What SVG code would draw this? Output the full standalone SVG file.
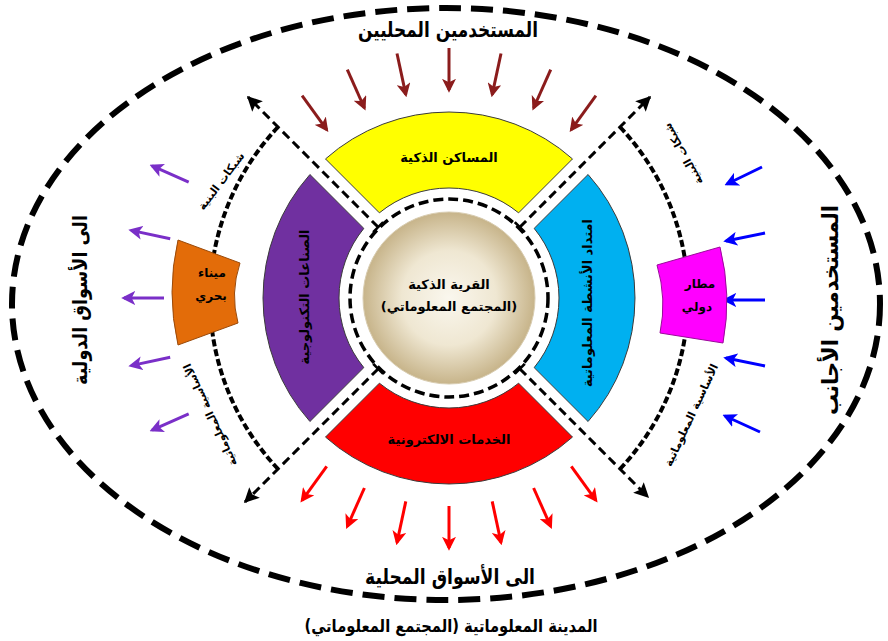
<svg xmlns="http://www.w3.org/2000/svg" width="888" height="641" viewBox="0 0 888 641">
  <style>
    .ar { font-family: "DejaVu Sans", "Noto Sans", sans-serif; font-weight: bold; fill: #000; direction: rtl; text-anchor: middle; }
    .dash-x { fill: none; stroke: #000; stroke-width: 3; stroke-dasharray: 9 5; }
    .dash-arc { fill: none; stroke: #000; stroke-width: 4; stroke-dasharray: 7 3; }
    .tick { stroke: #000; stroke-width: 3; }
    .sector { stroke: #3a3a3a; stroke-width: 1; }
    .a-top { stroke: #8b1c1c; stroke-width: 3; marker-end: url(#hMaroon); }
    .a-bot { stroke: #ff0000; stroke-width: 3; marker-end: url(#hRed); }
    .a-left { stroke: #7a2fc8; stroke-width: 3; marker-end: url(#hViolet); }
    .a-right { stroke: #0000ff; stroke-width: 3; marker-end: url(#hBlue); }
  </style>
  <defs>
    <radialGradient id="core" cx="50%" cy="50%" r="50%">
      <stop offset="0" stop-color="#faf7ee"/>
      <stop offset="0.55" stop-color="#efe7d2"/>
      <stop offset="1" stop-color="#c7b48a"/>
    </radialGradient>
    <marker id="hMaroon" viewBox="0 0 10 10" refX="8" refY="5" markerWidth="14" markerHeight="14" markerUnits="userSpaceOnUse" orient="auto">
      <path d="M0,0 L10,5 L0,10 L2.5,5 Z" fill="#8b1c1c"/>
    </marker>
    <marker id="hRed" viewBox="0 0 10 10" refX="8" refY="5" markerWidth="14" markerHeight="14" markerUnits="userSpaceOnUse" orient="auto">
      <path d="M0,0 L10,5 L0,10 L2.5,5 Z" fill="#ff0000"/>
    </marker>
    <marker id="hViolet" viewBox="0 0 10 10" refX="8" refY="5" markerWidth="14" markerHeight="14" markerUnits="userSpaceOnUse" orient="auto">
      <path d="M0,0 L10,5 L0,10 L2.5,5 Z" fill="#7a2fc8"/>
    </marker>
    <marker id="hBlue" viewBox="0 0 10 10" refX="8" refY="5" markerWidth="14" markerHeight="14" markerUnits="userSpaceOnUse" orient="auto">
      <path d="M0,0 L10,5 L0,10 L2.5,5 Z" fill="#0000ff"/>
    </marker>
    <marker id="hBlack" viewBox="0 0 10 10" refX="9" refY="5" markerWidth="15" markerHeight="15" markerUnits="userSpaceOnUse" orient="auto">
      <path d="M0,0 L10,5 L0,10 L2,5 Z" fill="#000"/>
    </marker>
  </defs>

  <rect width="888" height="641" fill="#fff"/>

  <!-- outer boundary: the information city -->
  <g id="outer-city">
    <ellipse cx="446" cy="304" rx="434" ry="296" fill="none" stroke="#000" stroke-width="6" stroke-dasharray="22 10"/>
  </g>

  <!-- connectors: dashed axes, dashed infrastructure arcs, flow arrows -->
  <g id="connectors">
    <line class="dash-x" x1="378.3" y1="227.3" x2="248" y2="97" marker-end="url(#hBlack)"/>
    <line class="dash-x" x1="519.7" y1="227.3" x2="650" y2="97" marker-end="url(#hBlack)"/>
    <line class="dash-x" x1="378.3" y1="368.7" x2="245" y2="502" marker-end="url(#hBlack)"/>
    <line class="dash-x" x1="519.7" y1="368.7" x2="648" y2="497" marker-end="url(#hBlack)"/>
    <line class="tick" x1="373.3" y1="232.3" x2="383.3" y2="222.3"/>
    <line class="tick" x1="514.7" y1="222.3" x2="524.7" y2="232.3"/>
    <line class="tick" x1="373.3" y1="363.7" x2="383.3" y2="373.7"/>
    <line class="tick" x1="514.7" y1="373.7" x2="524.7" y2="363.7"/>

    <path class="dash-arc" d="M278,127 A249,249 0 0 0 278,469"/>
    <path class="dash-arc" d="M620,127 A249,249 0 0 1 620,469"/>

    <line class="a-top" x1="302.1" y1="95.7" x2="326.7" y2="129.7"/>
    <line class="a-top" x1="347.3" y1="69.6" x2="364.4" y2="108"/>
    <line class="a-top" x1="397" y1="53.5" x2="405.8" y2="94.6"/>
    <line class="a-top" x1="449" y1="48" x2="449" y2="90"/>
    <line class="a-top" x1="501" y1="53.5" x2="492.2" y2="94.6"/>
    <line class="a-top" x1="550.7" y1="69.6" x2="533.6" y2="108"/>
    <line class="a-top" x1="595.9" y1="95.7" x2="571.3" y2="129.7"/>

    <line class="a-bot" x1="326.7" y1="466.3" x2="302.1" y2="500.3"/>
    <line class="a-bot" x1="364.4" y1="488" x2="347.3" y2="526.4"/>
    <line class="a-bot" x1="405.8" y1="501.4" x2="397" y2="542.5"/>
    <line class="a-bot" x1="449" y1="506" x2="449" y2="548"/>
    <line class="a-bot" x1="492.2" y1="501.4" x2="501" y2="542.5"/>
    <line class="a-bot" x1="533.6" y1="488" x2="550.7" y2="526.4"/>
    <line class="a-bot" x1="571.3" y1="466.3" x2="595.9" y2="500.3"/>

    <line class="a-left" x1="188.7" y1="182.1" x2="152.1" y2="165.8"/>
    <line class="a-left" x1="170.2" y1="238.7" x2="131.1" y2="230.4"/>
    <line class="a-left" x1="164" y1="298" x2="124" y2="298"/>
    <line class="a-left" x1="170.2" y1="357.3" x2="131.1" y2="365.6"/>
    <line class="a-left" x1="188.7" y1="413.9" x2="152.1" y2="430.2"/>

    <line class="a-right" x1="762" y1="167" x2="727" y2="184"/>
    <line class="a-right" x1="765" y1="233" x2="726" y2="241"/>
    <line class="a-right" x1="765" y1="300" x2="725" y2="300"/>
    <line class="a-right" x1="765" y1="366" x2="726" y2="358"/>
    <line class="a-right" x1="760" y1="432" x2="725" y2="416"/>
  </g>

  <!-- central core -->
  <g id="smart-village">
    <circle cx="449" cy="298" r="99" fill="#fff" stroke="#000" stroke-width="3.5" stroke-dasharray="10 5"/>
    <circle cx="449" cy="298" r="86" fill="url(#core)" stroke="#d8ccb0" stroke-width="1"/>
    <text class="ar" x="449" y="289" font-size="13">القرية الذكية</text>
    <text class="ar" x="449" y="311" font-size="13">(المجتمع المعلوماتي)</text>
  </g>

  <g id="smart-housing">
    <path class="sector" fill="#ffff00" d="M325.49,158.93 A186,186 0 0 1 572.51,158.93 L518.61,212.83 A110,110 0 0 0 379.39,212.83 Z"/>
    <text class="ar" x="449" y="162" font-size="13">المساكن الذكية</text>
  </g>

  <g id="e-services">
    <path class="sector" fill="#ff0000" d="M572.51,437.07 A186,186 0 0 1 325.49,437.07 L379.39,383.17 A110,110 0 0 0 518.61,383.17 Z"/>
    <text class="ar" x="449" y="444" font-size="13">الخدمات الالكترونية</text>
  </g>

  <g id="tech-industries">
    <path class="sector" fill="#7030a0" d="M309.93,421.51 A186,186 0 0 1 309.93,174.49 L363.83,228.39 A110,110 0 0 0 363.83,367.61 Z"/>
    <text class="ar" transform="translate(304,297) rotate(-90)" y="5" font-size="13">الصناعات التكنولوجية</text>
  </g>

  <g id="info-activities">
    <path class="sector" fill="#00b0f0" d="M588.07,174.49 A186,186 0 0 1 588.07,421.51 L534.17,367.61 A110,110 0 0 0 534.17,228.39 Z"/>
    <text class="ar" transform="translate(587,303) rotate(-90)" y="5" font-size="13">امتداد الأنشطة المعلوماتية</text>
  </g>

  <g id="seaport">
    <path fill="#e36c09" stroke="#9a4a0a" stroke-width="1" d="M178,240 Q166,292 178,345 L238,323 Q230,293 240,263 Z"/>
    <text class="ar" x="212" y="277" font-size="12">ميناء</text>
    <text class="ar" x="211" y="300" font-size="12">بحري</text>
  </g>

  <g id="airport">
    <path fill="#ff00ff" stroke="#9a0a9a" stroke-width="1" d="M657,265 Q667,299 660,333 L723,343 Q732,295 720,247 Z"/>
    <text class="ar" x="700" y="288" font-size="12">مطار</text>
    <text class="ar" x="697" y="311" font-size="12">دولي</text>
  </g>

  <!-- labels along the infrastructure arcs -->
  <g id="infra-labels">
    <text class="ar" transform="translate(221,181) rotate(-53)" y="4" font-size="11">شبكات البنية</text>
    <text class="ar" transform="translate(683,154) rotate(-119)" y="4" font-size="11">شبكات البنية</text>
    <text class="ar" transform="translate(210,415) rotate(-115)" y="4" font-size="11">الأساسية المعلوماتية</text>
    <text class="ar" transform="translate(691,415) rotate(-65)" y="4" font-size="11">الأساسية المعلوماتية</text>
  </g>

  <g id="users-local">
    <text class="ar" x="448" y="37" font-size="21" textLength="180" lengthAdjust="spacingAndGlyphs">المستخدمين المحليين</text>
  </g>
  <g id="users-foreign">
    <text class="ar" transform="translate(830,310) rotate(-90)" y="8" font-size="22" textLength="210" lengthAdjust="spacingAndGlyphs">المستخدمين الأجانب</text>
  </g>
  <g id="markets-intl">
    <text class="ar" transform="translate(80,300) rotate(-90)" y="7" font-size="20" textLength="170" lengthAdjust="spacingAndGlyphs">الى الأسواق الدولية</text>
  </g>
  <g id="markets-local">
    <text class="ar" x="450" y="584" font-size="21" textLength="170" lengthAdjust="spacingAndGlyphs">الى الأسواق المحلية</text>
  </g>
  <g id="caption">
    <text class="ar" x="451" y="632" font-size="17" textLength="293" lengthAdjust="spacingAndGlyphs">المدينة المعلوماتية (المجتمع المعلوماتي)</text>
  </g>
</svg>
